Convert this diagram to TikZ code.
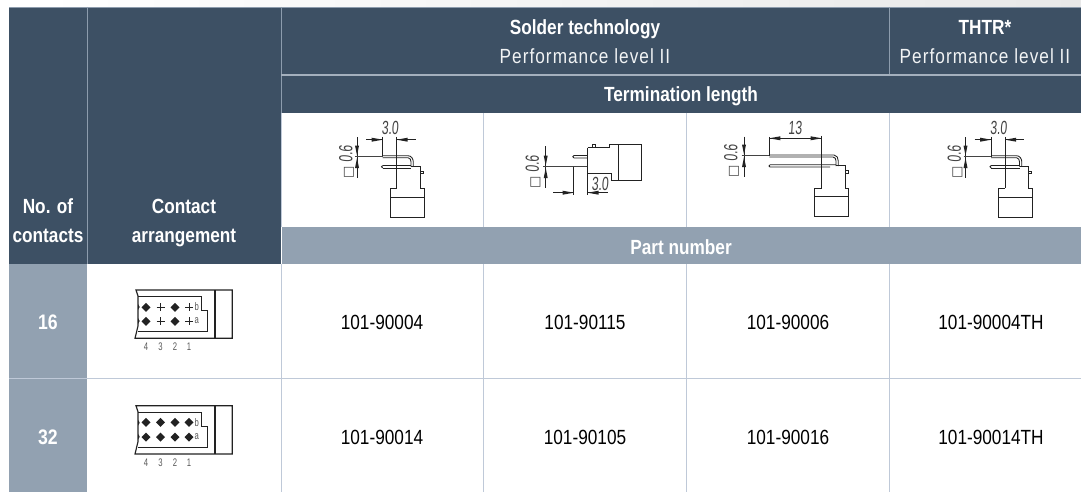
\documentclass[tikz,border=0pt]{standalone}
\usepackage{fontspec}
\setmainfont{Liberation Sans}[FakeStretch=0.84]
\newfontfamily\dimfont{Liberation Sans}[FakeStretch=0.64,FakeSlant=0.07]
\newfontfamily\symfont{DejaVu Sans}
\definecolor{dark}{HTML}{3D5064}
\definecolor{mid}{HTML}{92A1B1}
\definecolor{sep}{HTML}{8D9CAD}
\definecolor{lsep}{HTML}{BFC9D8}
\definecolor{ink}{HTML}{222222}
\tikzset{
  x=1pt,y=-1pt,
  headb/.style={text=white,font=\fontsize{20.5}{22}\selectfont\bfseries,inner sep=0pt,anchor=base},
  headr/.style={text=white!93!dark,font=\fontsize{20.5}{22}\selectfont\addfontfeatures{LetterSpace=5},inner sep=0pt,anchor=base},
  rowlab/.style={text=white,font=\fontsize{21}{22}\selectfont\bfseries,inner sep=0pt,anchor=base},
  partno/.style={text=black,font=\fontsize{20.5}{22}\selectfont,inner sep=0pt,anchor=base},
  gridl/.style={sep,line width=1pt},
  lgrid/.style={lsep,line width=1.2pt},
  dw/.style={ink,line width=0.85pt},
  dimt/.style={ink!85,font=\dimfont\fontsize{19}{19}\selectfont,inner sep=0pt},
  dimr/.style={ink!85,font=\dimfont\fontsize{19}{19}\selectfont,inner sep=0pt,rotate=90},
  ctxt/.style={ink!75,font=\addfontfeatures{FakeStretch=0.7}\fontsize{11}{11}\selectfont,inner sep=0pt},
  cline/.style={ink,line width=1.15pt},
}
\newcommand{\arrR}[2]{\fill[ink] (#1,#2) -- ++(-11,-2) -- ++(0,4) -- cycle;}
\newcommand{\arrL}[2]{\fill[ink] (#1,#2) -- ++(11,-2) -- ++(0,4) -- cycle;}
\newcommand{\arrD}[2]{\fill[ink] (#1,#2) -- ++(-2,-10) -- ++(4,0) -- cycle;}
\newcommand{\arrU}[2]{\fill[ink] (#1,#2) -- ++(-2,10) -- ++(4,0) -- cycle;}
\newcommand{\sqlabel}{{\symfont\fontsize{13}{13}\selectfont □}\,0.6}
\newcommand{\drawThree}[2]{%
\begin{scope}[shift={(#1,0)}]
 \node[dimt] (#2a) at (390,128) {3.0};
 \draw[dw] (366,139.7) -- (383,139.7) (396.7,139.7) -- (415.7,139.7);
 \arrR{382.7}{139.7}\arrL{396.7}{139.7}
 \draw[dw] (382.7,137) -- (382.7,157);
 \draw[dw] (396.7,137) -- (396.7,188.3);
 \draw[dw] (357,137.3) -- (357,177.7);
 \arrD{357}{155.5}\arrU{357}{158}
 \draw[ink!85,line width=1.3pt] (355,156.7) -- (382.7,156.7);
 \node[dimr] (#2b) at (346.5,162) {\sqlabel};
 \draw[dw] (382.7,155.7) -- (408,155.7) to[out=0,in=90] (413.3,162) -- (413.3,166.7);
 \draw[dw] (382.7,157.7) -- (408,157.7) to[out=0,in=90] (411,162) -- (411,166.7);
 \draw[dw] (382.7,165.5) -- (411,165.5) (382.7,168) -- (411,168);
 \draw[dw] (382.7,165.5) -- (381.5,166.7) -- (382.7,168);
 \draw[dw] (411,166.7) -- (420,166.7) -- (420,188.3) -- (424,188.3) -- (424,217.7) -- (390,217.7) -- (390,188.3) -- (396.7,188.3);
 \draw[dw] (390,197.3) -- (424,197.3);
 \draw[dw] (420,171) -- (423,171) -- (423,173.3) -- (420,173.3);
\end{scope}}
\begin{document}
\begin{tikzpicture}
\useasboundingbox (0,0) rectangle (1081,492);
\shade[left color=white,right color=black!9,draw=none] (40,0) rectangle (1081,7);
% header blocks
\fill[dark] (9,7) rectangle (1081,113);
\fill[dark] (9,113) rectangle (281,264);
\fill[white] (282,113) rectangle (1081,227);
\draw[gridl] (9,7.5) -- (1081,7.5);
\draw[gridl] (87,7) -- (87,264);
\draw[gridl] (281.5,7) -- (281.5,113);
\draw[gridl] (889.5,7) -- (889.5,75);
\draw[sep!80!white,line width=1.2pt] (281,75) -- (1081,75);
% part number strip, row labels
\fill[mid] (282,227) rectangle (1081,264);
\fill[mid] (9,264) rectangle (87,492);
% grid
\foreach \xx in {281.5,483.5,686.5,889.5}{\draw[lgrid] (\xx,113) -- (\xx,226.5);}
\foreach \xx in {281.5,483.5,686.5,889.5}{\draw[lgrid] (\xx,264) -- (\xx,492);}
\draw[lgrid] (9,378.5) -- (1081,378.5);
% header text
\node[headb] (n1) at (585,34.5) {Solder technology};
\node[headr] (n2) at (585,64) {Performance level II};
\node[headb] (n3) at (985,34.5) {THTR*};
\node[headr] (n4) at (985,64) {Performance level II};
\node[headb] (n5) at (681,101.5) {Termination length};
\node[headb] (n6) at (48,213) {No. of};
\node[headb] (n7) at (48,242) {contacts};
\node[headb] (n8) at (184,213) {Contact};
\node[headb] (n9) at (184,242) {arrangement};
\node[headb] (n10) at (681,254) {Part number};
\node[rowlab] (r1) at (48,329) {16};
\node[rowlab] (r2) at (48,444) {32};
\foreach \nm/\xx/\yy/\tx in {a/382/329/101-90004,b/585/329/101-90115,c/788/329/101-90006,d/991/329/101-90004TH,e/382/444/101-90014,f/585/444/101-90105,g/788/444/101-90016,h/991/444/101-90014TH}{
  \node[partno] (p\nm) at (\xx,\yy) {\tx};}
% right-angled 3.0
\drawThree{0}{q}
\drawThree{608.5}{s}
% right-angled 13
\node[dimt] (ta) at (795,128) {13};
\draw[dw] (769.3,137) -- (769.3,156) (821.7,136) -- (821.7,188.3);
\draw[dw] (769.3,138.3) -- (821.7,138.3);
\arrL{769.3}{138.3}\arrR{821.7}{138.3}
\draw[dw] (744,136.7) -- (744,176.7);
\arrD{744}{154.5}\arrU{744}{157}
\draw[ink!85,line width=1.3pt] (741.7,155.7) -- (769.3,155.7);
\node[dimr] (tb) at (731.5,161) {\sqlabel};
\draw[dw] (769.3,155) -- (834,155) to[out=0,in=90] (838.3,161) -- (838.3,166);
\draw[dw] (769.3,157) -- (833,157) to[out=0,in=90] (836,161) -- (836,166);
\draw[dw] (770,164.8) -- (836,164.8) (770,167) -- (830,167) (770,164.8) -- (769,166) -- (770,167);
\draw[dw] (836,165.5) -- (845.7,165.5) -- (845.7,188.3) -- (848.3,188.3) -- (848.3,216.7) -- (814.3,216.7) -- (814.3,188.3) -- (821.7,188.3);
\draw[dw] (814.3,196) -- (848.3,196);
\draw[dw] (845.7,170.5) -- (848.3,170.5) -- (848.3,173) -- (845.7,173);
% straight
\draw[dw] (545.7,146) -- (545.7,188.3);
\arrD{545.7}{165.5}\arrU{545.7}{168}
\draw[ink!85,line width=1.3pt] (543,166.7) -- (587.7,166.7);
\node[dimr] (ub) at (533,172) {\sqlabel};
\draw[dw] (573.7,166.7) -- (573.7,195);
\draw[dw] (553.3,192.7) -- (573.7,192.7);\arrR{573.7}{192.7}
\draw[dw] (587.7,147.7) -- (587.7,195);
\draw[dw] (587.7,192.7) -- (608.3,192.7);\arrL{587.7}{192.7}
\node[dimt] (ua) at (600,184) {3.0};
\draw[dw] (574,155.5) -- (587.7,155.5) (574,158) -- (587.7,158) (574,155.5) -- (572.8,156.7) -- (574,158);
\draw[dw] (587.7,147.7) -- (609.3,147.7) -- (609.3,144) -- (641.3,144) -- (641.3,180) -- (611.7,180) -- (611.7,173.3) -- (587.7,173.3);
\draw[dw] (618.3,144) -- (618.3,180);
\draw[dw] (592.3,147.7) -- (592.3,144.3) -- (595,144.3) -- (595,147.7);
% contact arrangement drawings
\newcommand{\dia}[2]{\fill[ink] (#1,#2-4.5) -- (#1+4.5,#2) -- (#1,#2+4.5) -- (#1-4.5,#2) -- cycle;}
\newcommand{\plusm}[2]{\draw[ink,line width=.7pt] (#1-4,#2) -- (#1+4,#2) (#1,#2-4) -- (#1,#2+4);}
\newcommand{\contact}[3]{%
\begin{scope}[shift={(0,#1)}]
 \draw[cline] (136,0) -- (232.3,0) -- (232.3,48.3) -- (135,48.3) -- (138,36) -- (138,6) -- cycle;
 \draw[cline] (215,0) -- (215,48.3);
 \draw[cline] (138,6.5) -- (201.7,6.5) -- (201.7,20.7) -- (207.7,20.7) -- (207.7,41.7) -- (138,41.7);
 \fill[ink] (138,14) -- (139.7,17) -- (138,20) -- cycle (138,28) -- (139.7,31) -- (138,34) -- cycle;
 \node[ctxt] (lb#2) at (196.8,16.5) {b};
 \node[ctxt] (la#2) at (196.8,31) {a};
 #3
 \node[ctxt] (xd#2) at (146,57) {4};
 \node[ctxt] (xc#2) at (160.5,57) {3};
 \node[ctxt] (xb#2) at (175,57) {2};
 \node[ctxt] (xa#2) at (189,57) {1};
\end{scope}}
\contact{290}{u}{\dia{146}{17.3}\dia{146}{31.3}\plusm{160.5}{17.3}\plusm{160.5}{31.3}\dia{175}{17.3}\dia{175}{31.3}\plusm{189}{17.3}\plusm{189}{31.3}}
\contact{405.7}{v}{\dia{146}{16.6}\dia{146}{31.3}\dia{160.5}{16.6}\dia{160.5}{31.3}\dia{175}{16.6}\dia{175}{31.3}\dia{189}{16.6}\dia{189}{31.3}}
\end{tikzpicture}
\end{document}
